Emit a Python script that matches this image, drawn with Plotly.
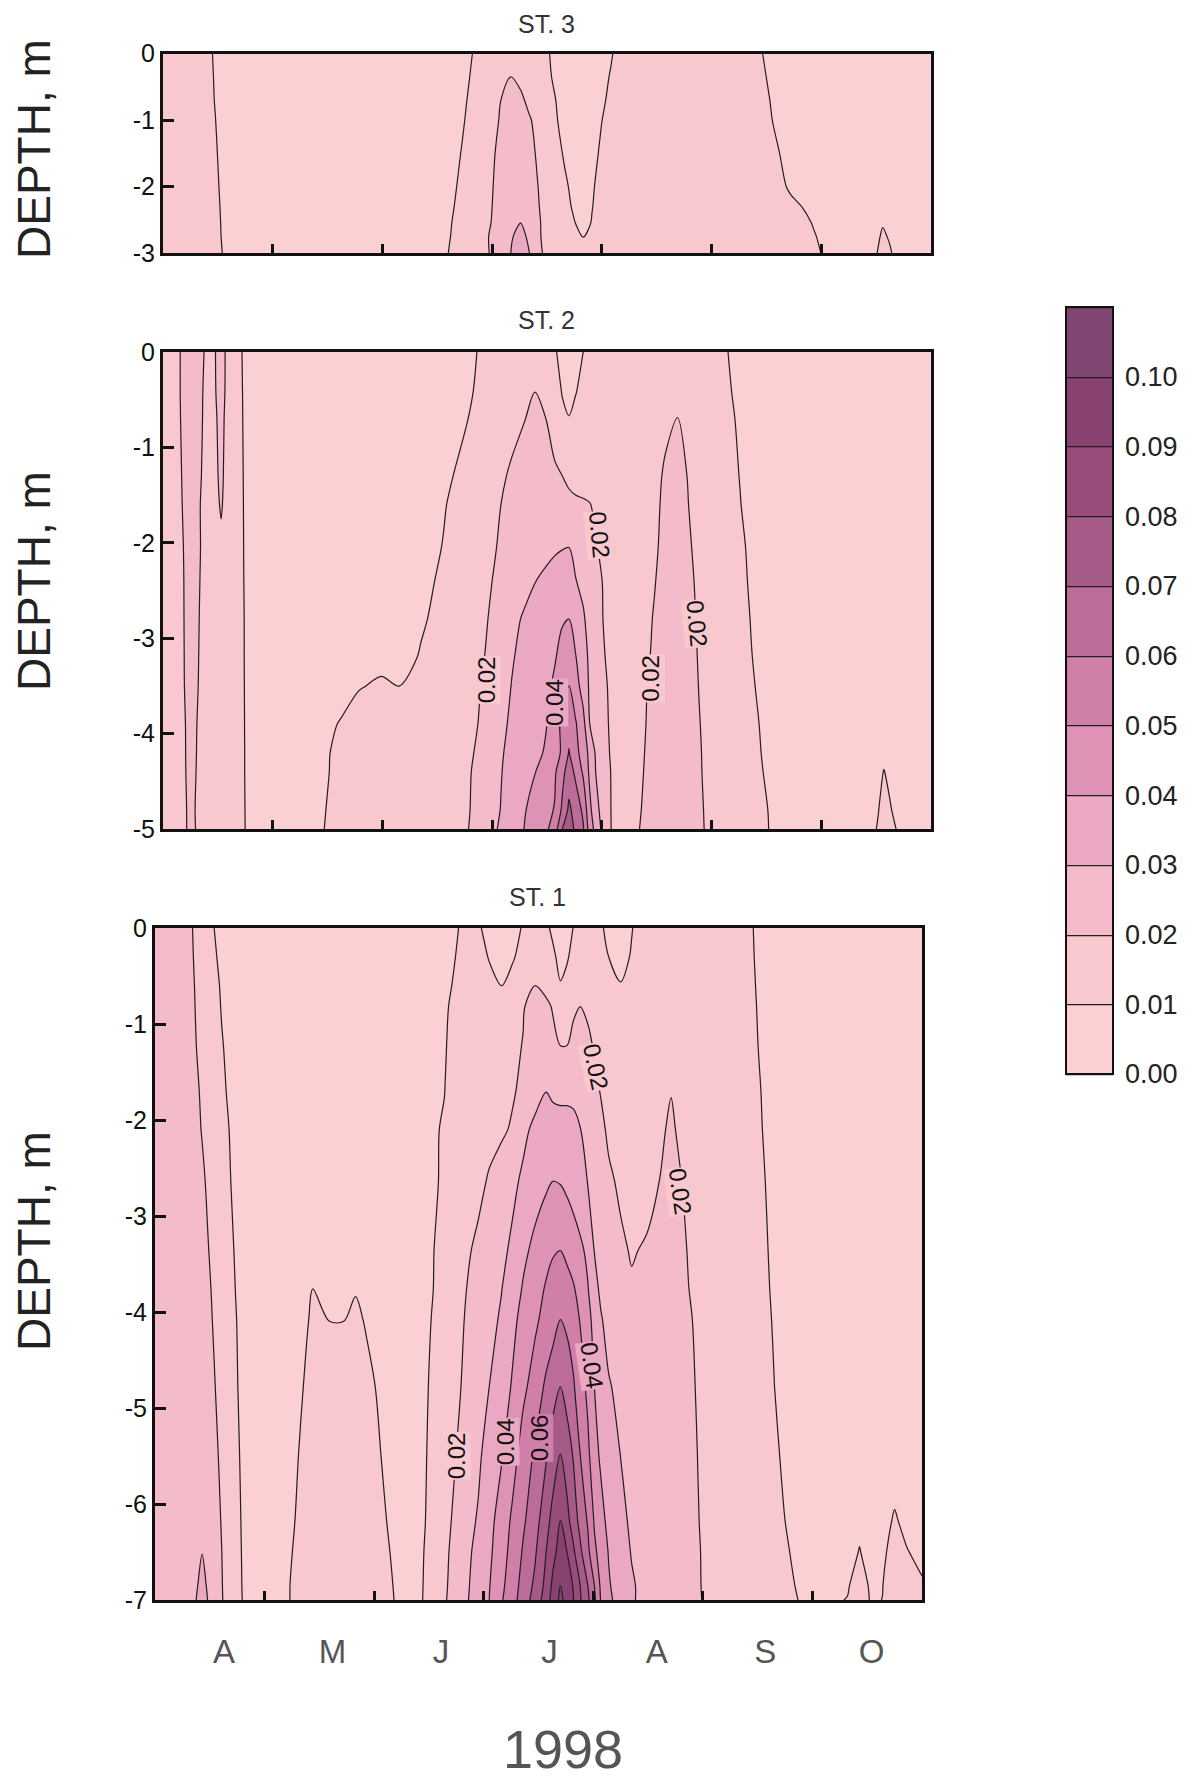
import numpy as np
import plotly.graph_objects as go

# z values in thousandths of the plotted quantity
LEVELS = [0.00, 0.01, 0.02, 0.03, 0.04, 0.05, 0.06, 0.07, 0.08, 0.09, 0.10, 0.11]
BAND_COLORS = ["#fad0d2", "#f8c8ce", "#f4bccb", "#eaa8c2", "#de92b6", "#d07fa9",
               "#bc6c99", "#a65a87", "#974c79", "#874270", "#7f4672"]
MONTH_LABELS = ["A", "M", "J", "J", "A", "S", "O"]
MONTH_LABEL_POS = [0.63, 1.62, 2.61, 3.60, 4.58, 5.57, 6.54]
MONTH_EDGES = [1, 2, 3, 4, 5, 6]

ST3_MONTH = [0, .33, .44, .54, .64, 1.63, 2.51, 2.61, 2.72, 2.82, 2.92, 3.00, 3.08, 3.17, 3.26, 3.34, 3.41,
             3.49, 3.58, 3.66, 3.74, 3.83, 3.91, 3.99, 4.08, 4.17, 4.74, 5.41, 5.52, 5.62, 5.72, 5.83, 5.93,
             6.04, 6.19, 6.45, 6.52, 6.56, 6.63, 6.71, 7]
ST3_DEPTH = [0, -.35, -.7, -1, -1.5, -2, -2.3, -2.55, -2.75, -3]
ST3_Z = [
 [14,13,10.5,6,6,6,6,6,7,10,13,14,15,16,16,15,14,11.5,7.5,6,6,6,6,6,9,13.5,14,12.5,7.5,6,6,6,6,6,6,6,6,7,6,6,6],
 [14,13,11,6,6,6,6,6,7.5,10.8,14,15,17.5,20,18,16,14,12,8.5,6,6,6,6,7,10.6,14,14,14,9,6,6,6,6,6,6,6,6,7,6,6,6],
 [14,13,11.5,6,6,6,6,6,8.5,11.5,15,16,20,23,21.5,18,15,13,10,6,6,6,6,8,12,15,14,14,10.5,6,6,6,6,6,6,6,6,7,6,6,6],
 [14,13,12,7,6,6,6,6,9,12.3,15,17,21,24,23,20.7,18,15,10.8,7,6,6,6,9.5,13,15,14,14.5,11.5,7,6,6,6,6,6,6,6,7,6,6,6],
 [14,13,12.5,8,6,6,6,7,10.2,13,16,19,22,25,25,23,19,15.5,13,9,7,6,7.5,11,14,15,14,15,14,10,6,6,6,6,6,6,6,7,6,6,6],
 [14,13,13,8.7,6,6,6,8,11.3,14,17,19.6,23,26,26,24,20.5,16,14,11.5,8,7,9.2,12,14,15,14,15,14,12,8.7,6,6,6,6,6,6,7.5,6,6,6],
 [14,13,13,9.2,6,6,6,8.8,11.8,14.5,17.5,20,24,27,28,25,21,17,15,13,9,8,9.7,13,14.5,15,14,15,14,13,12,9.8,7,6,6,6,6.5,8,6.5,6,6],
 [14,13.5,13.5,9.4,6.5,6,7,9.4,12.4,15,18,20.3,25,28,30,26,22,17,15,13.5,10.8,7,10.5,13.5,15,15,14,15,14,13.5,13,12,9.5,7,6,6.5,7.5,9.5,7.5,6.5,6],
 [14,13.5,13.5,9.6,7,6,8,9.7,12.7,15.5,18.5,21,26,29,33,28,21.5,18,16,14,12,9.9,12,14,15,15,14,15,14,14,14,14,10.6,8,7,7,9.3,11,9.2,7,6],
 [14,14,14,10,7.5,6,7,10.3,13,16,18,21,26,30,35,30,23,18,16,14,13,12,13,14,15,15,14,15,15,15,14,14,13,8,7,7.5,10.5,13,10.5,7,6],
]

ST2_MONTH = [0, .12, .23, .33, .44, .53, .62, .72, .82, 1.32, 1.47, 1.63, 1.78, 1.99, 2.15, 2.35, 2.56, 2.77,
             2.87, 2.98, 3.08, 3.18, 3.29, 3.39, 3.49, 3.57, 3.64, 3.70, 3.76, 3.83, 3.89, 3.95, 4.01, 4.09, 4.17,
             4.27, 4.38, 4.48, 4.58, 4.69, 4.79, 4.89, 5.00, 5.15, 5.26, 5.36, 5.47, 5.57, 6.45, 6.52, 6.57, 6.63, 6.71, 7]
ST2_DEPTH = [0, -.42, -.7, -1.3, -1.6, -2.05, -2.4, -2.8, -3.2, -3.5, -3.9, -4.2, -4.4, -4.8, -5]
ST2_Z = [
 [15,18,24,22,17,24,14,10,6, 6,6,6,6,6,6,6,7,8, 10.2,13,15,16,16,15,13,10.7,8,7,8,10,13,14,15,15,15, 15,15,15,15,15,15,15,15, 10,7,6,6,6, 6,6,7,6,6,6],
 [15,18,24,21.5,16.5,24,13.5,10.2,6, 6,6,6,6,6,6,6,7.5,8.7, 11,14,16,17,18.5,20,17.5,14,9.5,8.5,9.7,12,14,15,15.5,15.5,15.5, 15.5,15.5,16,17,18,17,15.5,15, 11,7.7,6,6,6, 6,6,7,6,6,6],
 [15,18,23.5,21.5,16,23,13,10.3,6, 6,6,6,6,6,6,6,8,9.8, 12,15,17,18,19.7,22,20,16,12,10.2,12,14,15.5,16,16,16,16, 15.5,16,17,18.5,20.1,18.5,16,15, 12,8.5,6,6,6, 6,6,7,6,6,6],
 [15,17.5,23,21,15.5,22,13,10.5,6, 6,6,6,6,6,6,6,8.8,11.8, 15,17,19,21,23,24,23,21.5,20,18,17,16.5,16,16,16,16,16, 15.5,16,18,21,23,19.5,17,15, 13,9.7,6.5,6,6, 6,6,7,6,6,6],
 [15,17.5,22.5,20.5,15,21,13,10.6,6, 6,6,6,6,6,6,7,9.6,13, 16,18,20,22,24,25,25,24,23,22.5,21.5,21,20.3,18.5,17,16,15.5, 15.5,16.5,18.5,21.5,24,20,17,15, 13,10.3,7,6,6, 6,6,7,6,6,6],
 [15,17,22,20.6,15,18,13,10.7,6, 6,6,6,6,6,6,7.5,10.3,14, 16.5,18.5,21,23.5,25.5,27,28,29,29.7,30,28,26,23.5,20.5,18,16.5,15.5, 15.5,17,19,22,25,21,17.5,15, 14,11.5,8.5,6,6, 6,6,7,6,6,6],
 [15,16.5,22,20.3,15,16,13,10.8,6, 6,6,6,6,6,6,8.5,11,15, 17,19.5,22,24.5,27,29.8,31.5,33,34,33,30.3,28,25,22.3,19.7,17,15.5, 15.5,17.5,19.7,22.5,25,22,18,15.5, 14,12,9,6.5,6, 6,6,7,6,6,6],
 [15,16.3,22,20,15,15,13,11,6, 6,6,6,6,6,6.5,9.2,12,16, 17.5,20.5,23,27.5,31,33.5,36,38,39.5,40,36,31,27,24,20,17.5,15.5, 15.5,18,20.5,23,25.5,23,18.5,15.5, 14,13,9.7,7,6, 6,6,7,6,6,6],
 [15,16,22,19.9,15,15,13,11,6, 6,6,6,6,8,7.5,10.5,13,17, 18.8,21,25.5,29.3,32.5,35,37.5,39.5,42,44,40.5,34,28,25,21,17,15.5, 16,18.5,21,23.5,26,24,19,15.5, 14,13,10.3,7.5,6, 6,6,7,6,6,6],
 [15,15.7,22,19.8,15,15,13,11.1,6, 6,6,7,9.5,11,9.9,12,14,18, 19.4,22,26.5,30.3,33.5,36,38.5,41,45,50,44,36,28.5,25.5,22,18,15.5, 16,19,22,24,26,24.5,19.5,15.5, 14,13,11,8,6, 6,6,7,6,6,6],
 [15,15,21.5,19.6,15,15,13,11.2,6, 6,8,10.7,13,14,14,14.5,15,18, 20,23,28,31.5,34,37,39.5,44,53,57,51,43,30,26,22.5,18.5,15.5, 16,19.3,22.5,24,26,25,20.3,15.5, 14,13.5,12,9,6.5, 6,6,7,6,6,6],
 [15,14.5,21.5,19.5,15,15,13,11.3,6, 6,9,12,13.5,14,14,15,15.5,18.3, 21,25,29.3,32,34.5,37.5,41,46,51.5,60.5,53,46,37,28,23,19,15.5, 16,19.7,23,25,26,25,20.8,16, 14,13.5,12.5,9.5,7, 6,6,8,6,6,6],
 [15,14,21.5,19.4,15,15,13,11.3,6, 6,9,12.5,14,14,14,15,16,19, 21.5,26,29.7,32.5,35.5,39.7,44,48.5,57,65,58,48.5,38,29,23.5,19.5,15.5, 16.5,20,23,25,26,25,21,16, 14,14,13,10,7, 6,7.5,10.3,8,6,6],
 [15,13.5,21,19.4,15,15,13,11.5,6, 6,9.7,13,14,14,14.5,15,16.5,18.8, 23,27.5,30.2,34,39,44,47.5,50.5,62,72,66,58,42,33.5,25,19.5,15.5, 17,20.7,24,25.5,26.5,25.5,22,16, 15,14,13.5,11.5,8, 7,9.8,12.5,10.5,7,6],
 [15,13.3,21,19.5,15,15,13,11.6,6, 7,10,13,14,14,14.5,15,16.5,19.3, 24,28,31,35,40,44,48,55,70,78,67,61,45,36,27,19.5,15.5, 17,21.5,24,26,27,26,22.5,16, 15,14,14,12,8, 8,10.7,14,11.8,9,6],
]

ST1_MONTH = [0, .30, .37, .43, .48, .54, .61, .72, .82, .92, 1.18, 1.31, 1.44, 1.60, 1.72, 1.83, 1.93, 2.07, 2.20, 2.35,
             2.48, 2.64, 2.79, 2.95, 3.05, 3.16, 3.26, 3.36, 3.47, 3.57, 3.63, 3.70, 3.76, 3.82, 3.88, 3.95, 4.01, 4.07,
             4.14, 4.25, 4.35, 4.49, 4.61, 4.71, 4.79, 4.87, 4.99, 5.13, 5.34, 5.49, 5.65, 5.80, 5.96, 6.32, 6.43, 6.53,
             6.64, 6.75, 6.86, 7]
ST1_DEPTH = [0, -.3, -.6, -.82, -1.24, -1.7, -2.1, -2.64, -3.36, -3.76, -4.08, -4.78, -5.48, -6.17, -6.5, -6.85, -7]
ST1_Z = [
 [26,22.2,18.6,15.9,13.2,10,6.5,6,6,6, 6,6,6,6,6,6,6,6,6,6, 6,8,10.3,11,7.5,6,8,10.5,13,11,9,7,7,10.3,13,15,14,11,8,6,9.7,14,15,15,15,15,15,15, 13,9.25,6,6,6,6,6,6,6,6,6,6],
 [26,22.5,19,16.6,14.1,11.2,7.7,6,6,6, 6,6,6,6,6,6,6,6,6,6, 6.5,8.5,10.7,14,9.4,7.5,9.3,12,15,14,11,8.5,9.3,12,14,16,15,13,10,8,10.5,15,15.5,15.5,15.5,15.5,15.5,15, 13,9.5,6,6,6,6,6,6,6,6,6,6],
 [26,23,19.5,17.3,15,12.3,9,6.5,6,6, 6,6,6,6,6,6,6,6,6,6, 7,9,11.2,14.5,13,9.8,12,17,20,18,14,10.3,12,14,16,17,15.5,14,12,10.3,13,15.5,16,16,16,16,16,15, 13,9.8,6,6,6,6,6,6,6,6,6,6],
 [26,23,19.8,17.6,15.3,12.7,9.5,7,6,6, 6,6,6,6,6,6,6,6,6,6.5, 7.5,9.3,12,15,16,16,17,19.5,23,21.5,19.5,17,17.5,19,20.1,18.5,17,16,15,14.5,15,16,16.5,16.5,16.5,16.5,16,15, 13,10,6.5,6,6,6,6,6,6,6,6,6],
 [26,23.5,20.3,18,15.9,13.4,10.5,7,6,6, 6,6,6,6,6,6,6,6,6,6.5, 8,9.6,12.5,15,16,17,18.5,20.3,24,24,22,20.1,20.1,22,23,22,19.3,17.5,16,15,15,16,17,17.5,17,17,16,15, 13.5,10.3,7,6,6,6,6,6,6,6,6,6],
 [26,24,21.3,19,16.9,14.4,11.4,7.5,6,6, 6,6,6,6,6,6,6,6,6,7, 8.5,9.9,13,15.5,16.5,17.5,19,22,27,29.9,28,27,27,26.5,26,24.5,22,19.5,17,15,15,16.5,18,19.7,19,18,16.5,15, 14,11,7,6,6,6,6,6,6,6,6,6],
 [26,24.5,22,19.6,17.6,15.2,12.4,8.4,6,6, 6,6,6,6,6,6,6,6,6,7.5, 9,10.4,13.5,16,17,18.5,21,28,32,34,35,35,35,34,30.3,27,24.5,22,18.5,16,15,16.5,18.5,21.5,18.5,17,16,15, 14,11.5,7,6,6,6,6,6,6,6,6,6],
 [26,25,23.8,21.3,19,16.3,13.2,8.9,6.5,6, 6,6,6.5,6.5,6.5,6.5,6,6,6,7.5, 9.2,10.4,14,17.5,21,24.5,28,31.5,35,38.5,40,39.5,38,36,33,29.7,26,24,21.5,18.5,16,17,20.2,24,20.7,17.5,16,15, 14,12,8,6,6,6,6,6,6,6,6,6],
 [26,25,24.5,23,20.5,17.7,14.5,10,6.5,6, 6,7,8.8,7.5,7,7.5,7,6,6,8, 9.5,10.7,17,22,25.5,28,31.5,37.5,43,47,49,50,47,44.5,42,38,29.7,27,25,21.5,19.3,21,23,26,24,19,16.5,15, 14,12.5,8.7,6,6,6,6,6,6,6,6,6],
 [26,25.5,25,24,21.5,18.6,15.2,10.5,6.5,6, 6,7.5,10,8.8,8.5,9.5,7.5,6,6,8, 9.4,11,18.5,23,26.5,29.7,34,41,46,51,54,57,55,51,46,40.5,34,27.5,25.5,23,21,22,24,26,24.5,20.1,17,15, 14,13,9,6,6,6,6,6,6,6,6,6],
 [26,25.5,25,24.5,22,19.2,15.8,11,7,6, 6,8,10.8,9.9,9.9,11.5,9.3,7,6,8, 9.6,11.2,19,24,27.5,31,37.5,43,48.5,53,56,60,58,55,49.5,43,37,31,26,24,22,23,25,26,25,21,17.5,15, 14,13,9.5,6.5,6,6,6,6,6,6,6,6],
 [26,26,25.5,25,23.5,20.5,17,11.8,6.8,6, 7,9,12,12,12,13,12,8.5,6.5,8.5, 9.8,12,19.9,26,30,35,40.8,48,54,62,66,70,66,61,54,48,40,36,31,27,25,24,25,26,26,22,18,15, 14,13.5,10.1,6.5,6,6,6,6,6,6,6,6],
 [26,26,26,25.5,24.5,22,18.2,12.7,7.5,6, 8.5,10,13,14,14,14,13,9.8,7,8.5, 10,15,22,28,34.5,39,46,54,61.5,69,75,80,75,69,60,52,44,38,34,29.8,26,24,25,26,26,23,18.5,15, 14,14,11,8,6,6,6,6,6,7,6.5,6],
 [26,27,27,27.5,26,23.5,19.4,13.5,8,6, 8.5,10.5,14,15,15,15,14,11,8,8, 10.2,17,24,31,37,44,51.5,58.5,66,76.5,83,90,83,75,67,59,49,43.5,37,33,28,25,25,26,26,24,19,15, 14,14,13,8.5,6.5,6,8.5,6,8,10.6,8.5,7],
 [26,27,27.5,29.8,27,24,20,13.7,8.3,6, 8.7,11,14.5,15,15,15,14.5,12,8.5,8, 10.5,18,25,33,38,46,53,61,69,80,87,94,90,81.5,72,62.5,52,46,39.5,34,29.5,26,25.5,26,26,25,19.5,15, 14,14,14,9.8,7,7.5,10.3,7.5,9,12,10.3,8.5],
 [26,27,28.5,33,29,24.5,20.3,14,8.5,6, 9,11.5,15,15,15,15,15,12.5,9.3,8, 10.7,18.5,26,34,39.5,48,54.5,64,72,83,92,100,96,89,80,70,60,48,41,35,31,27,26,26,26,25,19.7,15, 15,14,14,11,7,9.5,12.5,9.3,9.9,13,12,10.6],
 [26,27,29.5,35,30,25,20.5,14.2,8.7,6, 9,11.5,15,15,15,15,15,13,9.5,7.5, 11,19,26,35,40,49,56,65,74,85,94,102,97,90,81,72,62,49,42,36,31,27,26,26,26,25,20,15, 15,14,14,11.5,8,10.2,14,9.5,10.05,14,13,12],
]

ST3_TICKS = [0, -1, -2, -3]
ST2_TICKS = [0, -1, -2, -3, -4, -5]
ST1_TICKS = [0, -1, -2, -3, -4, -5, -6, -7]

# (month, depth, text, rotation, index of the band behind the label)
ST2_LABELS = [(2.945, -3.44, "0.02", -90, 1), (3.567, -3.675, "0.04", -90, 3), (4.449, -3.425, "0.02", -90, 1),
              (3.982, -1.92, "0.02", 85, 1), (4.864, -2.85, "0.02", 85, 1)]
ST1_LABELS = [(2.75, -5.50, "0.02", -90, 1), (3.20, -5.35, "0.04", -90, 3), (3.51, -5.31, "0.06", -90, 5),
              (3.99, -4.555, "0.04", 82, 3), (4.02, -1.447, "0.02", 78, 1), (4.80, -2.75, "0.02", 82, 1)]

W, H = 1192, 1786
PANELS = [
    ("ST. 3", ST3_MONTH, ST3_DEPTH, ST3_Z, ST3_TICKS, [], (163, 931, 53.5, 253), 546, 24, 149),
    ("ST. 2", ST2_MONTH, ST2_DEPTH, ST2_Z, ST2_TICKS, ST2_LABELS, (163, 931, 352, 829), 546, 320, 581),
    ("ST. 1", ST1_MONTH, ST1_DEPTH, ST1_Z, ST1_TICKS, ST1_LABELS, (155, 922, 928, 1600), 537, 897, 1241),
]

n = len(BAND_COLORS)
colorscale = []
for i, c in enumerate(BAND_COLORS):
    colorscale += [[i / n, c], [(i + 1) / n, c]]

SANS = "Liberation Sans"

fig = go.Figure()
annotations = []
for idx, (title, months, depth, z, ticks, labels, box, tx, ty, dy) in enumerate(PANELS):
    for row in z:
        assert len(row) == len(months), (title, len(row), len(months))
    assert len(z) == len(depth)
    s = "" if idx == 0 else str(idx + 1)
    fig.add_trace(go.Contour(
        x=months, y=depth, z=(np.array(z) / 1000).tolist(),
        xaxis="x" + s, yaxis="y" + s,
        colorscale=colorscale, zmin=LEVELS[0], zmax=LEVELS[-1], autocontour=False,
        contours=dict(start=LEVELS[0], end=LEVELS[-1], size=0.01, coloring="fill", showlines=True),
        line=dict(color="#241c20", width=1.2, smoothing=0.9),
        showscale=(idx == 2),
        hoverinfo="skip",
        colorbar=dict(
            thicknessmode="pixels", thickness=47, lenmode="pixels", len=767,
            x=1066 / W, xanchor="left", y=1 - 307 / H, yanchor="top", xpad=0, ypad=0,
            outlinecolor="#111", outlinewidth=2,
            ticks="outside", ticklen=6, tickcolor="rgba(0,0,0,0)",
            tickvals=LEVELS[:-1], ticktext=["%.2f" % v for v in LEVELS[:-1]],
            tickfont=dict(family=SANS, size=27, color="#222"),
        ),
    ))
    x0, x1, y0, y1 = box
    last = idx == 2
    xax = dict(
        domain=[x0 / W, x1 / W], range=[0, 7], anchor="y" + s, showgrid=False, zeroline=False,
        showline=True, mirror=True, linecolor="#111", linewidth=3,
        tickmode="array",
        tickvals=MONTH_LABEL_POS if last else [],
        ticktext=MONTH_LABELS if last else [],
        ticks="outside" if last else "", ticklen=20, tickcolor="rgba(0,0,0,0)",
        tickfont=dict(family=SANS, size=33, color="#555"),
        minor=dict(tickmode="array", tickvals=MONTH_EDGES, ticks="inside", ticklen=9, tickwidth=3, tickcolor="#111"),
    )
    yax = dict(
        domain=[1 - y1 / H, 1 - y0 / H], range=[depth[-1], 0], anchor="x" + s, showgrid=False, zeroline=False,
        showline=True, mirror=True, linecolor="#111", linewidth=3,
        tickmode="array", tickvals=ticks, ticktext=["%d" % t for t in ticks],
        ticks="inside", ticklen=11, tickwidth=3, tickcolor="#111",
        tickfont=dict(family=SANS, size=25, color="#111"),
    )
    fig.update_layout(**{"xaxis" + s: xax, "yaxis" + s: yax})
    annotations.append(dict(text=title, x=tx / W, y=1 - ty / H, xref="paper", yref="paper",
                            showarrow=False, xanchor="center", yanchor="middle",
                            font=dict(family=SANS, size=25, color="#333")))
    annotations.append(dict(text="DEPTH, m", x=34 / W, y=1 - dy / H, xref="paper", yref="paper",
                            showarrow=False, textangle=-90, xanchor="center", yanchor="middle",
                            font=dict(family=SANS, size=46, color="#222")))
    for mx, my, text, ang, band in labels:
        annotations.append(dict(text=text, x=mx, y=my, xref="x" + s, yref="y" + s, showarrow=False,
                                textangle=ang, bgcolor=BAND_COLORS[band], borderpad=0,
                                font=dict(family=SANS, size=24, color="#111")))

annotations.append(dict(text="1998", x=563 / W, y=1 - 1749 / H, xref="paper", yref="paper", showarrow=False,
                        xanchor="center", yanchor="middle", font=dict(family=SANS, size=54, color="#555")))

fig.update_layout(width=W, height=H, margin=dict(l=0, r=0, t=0, b=0, autoexpand=False), paper_bgcolor="white",
                  plot_bgcolor="white", annotations=annotations, showlegend=False)
fig.write_html("out.html", post_script="document.body.style.margin='0';", config={"displayModeBar": False})
